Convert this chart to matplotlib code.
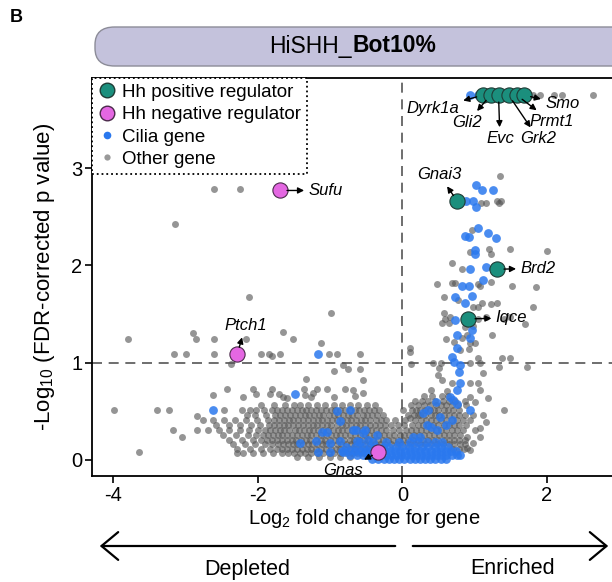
import matplotlib
matplotlib.use("Agg")
import matplotlib.pyplot as plt
from matplotlib.lines import Line2D
from matplotlib.patches import FancyBboxPatch, FancyArrowPatch

plt.rcParams["font.family"] = ["Liberation Sans", "DejaVu Sans"]
plt.rcParams["mathtext.default"] = "regular"

# ---------------- data ----------------
# Hh positive regulators (teal)
pos_names = ["Dyrk1a", "Gli2", "Evc", "Grk2", "Prmt1", "Smo", "Gnai3", "Brd2", "Iqce"]
pos_x = [1.12, 1.22, 1.33, 1.47, 1.58, 1.68, 0.76, 1.31, 0.91]
pos_y = [3.75, 3.75, 3.75, 3.75, 3.75, 3.75, 2.66, 1.96, 1.45]
pos_text_x = [0.42, 0.90, 1.35, 1.88, 2.06, 2.21, 0.51, 1.63, 1.29]
pos_text_y = [3.61, 3.47, 3.30, 3.30, 3.48, 3.66, 2.93, 1.97, 1.46]

# Hh negative regulators (magenta)
neg_names = ["Sufu", "Ptch1", "Gnas"]
neg_x = [-1.69, -2.28, -0.33]
neg_y = [2.77, 1.09, 0.08]
neg_text_x = [-1.30, -2.17, -0.82]
neg_text_y = [2.77, 1.38, -0.11]

# cilia genes (blue), scattered ones
blue_x = [0.94, 1.05, 1.22, 1.42, 1.52,
          1.02, 1.10, 1.25, 0.88, 0.98, 1.02, 1.05, 0.87, 0.92, 1.18, 1.29, 1.01, 1.01,
          0.94, 1.15, 1.12, 0.82, 0.92, 0.73, 0.97, 0.87, 0.73, 0.75, 0.94, 0.97, 0.76,
          0.69, 0.71, 0.80, 0.79, 0.80, 0.76, 0.47, 0.70, 0.66, 0.76, 0.93, 0.36, 0.29,
          0.52, 0.34, 0.60, 0.69, 0.48, 0.25, 0.15, 0.39, 0.80,
          -1.16, -1.49, -2.62, -0.90, -0.72, -0.86, -1.11, -1.04, -0.64, -0.54, -1.42,
          -1.20, -1.00, -0.86, -0.62, -0.48, -1.16, -1.00, -0.82, -0.68, -0.51, -0.35]
blue_y = [3.75, 3.75, 3.75, 3.75, 3.75,
          2.83, 2.77, 2.77, 2.66, 2.66, 2.60, 2.38, 2.30, 2.29, 2.33, 2.28, 2.16, 2.12,
          1.96, 1.98, 1.85, 1.79, 1.79, 1.67, 1.69, 1.61, 1.44, 1.28, 1.25, 1.34, 1.15,
          1.06, 1.01, 0.98, 0.90, 0.79, 0.72, 0.60, 0.62, 0.65, 0.57, 0.51, 0.51, 0.48,
          0.44, 0.36, 0.36, 0.41, 0.31, 0.24, 0.24, 0.34, 0.05,
          1.09, 0.68, 0.51, 0.50, 0.51, 0.40, 0.29, 0.29, 0.31, 0.28, 0.17,
          0.19, 0.17, 0.19, 0.19, 0.21, 0.08, 0.08, 0.08, 0.31, 0.31, 0.26]

# cilia genes, dense band near the bottom (one list of x per row)
blue_rows_y = [0.01, 0.05, 0.09, 0.13, 0.18]
blue_rows_x = [
    [-0.42, -0.34, -0.26, -0.18, -0.11, -0.04, 0.03, 0.10, 0.17, 0.24, 0.31, 0.38, 0.45, 0.53, 0.61],
    [-0.72, -0.63, -0.55, -0.47, -0.39, -0.31, -0.23, -0.16, -0.09, -0.02, 0.05, 0.12, 0.19, 0.26,
     0.33, 0.40, 0.47, 0.54, 0.61, 0.68, 0.76],
    [-0.84, -0.74, -0.65, -0.57, -0.49, -0.41, -0.33, -0.25, -0.17, -0.10, -0.03, 0.04, 0.11, 0.18,
     0.25, 0.32, 0.39, 0.46, 0.53, 0.60, 0.67, 0.74],
    [-0.78, -0.66, -0.55, -0.45, -0.36, -0.27, -0.18, -0.09, 0.00, 0.09, 0.18, 0.27, 0.36, 0.45,
     0.54, 0.63],
    [-0.58, -0.41, -0.22, -0.05, 0.10, 0.22, 0.34, 0.45, 0.55],
]

# other genes (gray), scattered ones
gray_x = [-2.60, -2.24, -3.14, -2.12, -3.79, -2.89, -2.85, -2.61, -2.16, -3.15, -2.99, -2.60,
          -2.37, -1.95, -1.84, -1.80, -1.69, -1.65, -1.51, -1.12, -0.98, -1.02, -0.90, -0.59,
          -0.95, -0.82, -0.75, -0.59, -0.55, -1.33, -2.42, -2.62, -2.06, -2.20, -2.02, -1.80,
          -1.70, -1.59, -1.36, -1.26, -1.18, -1.04, -0.94, -0.79, -0.68, -1.83, -1.65, -1.34,
          -1.23, -0.65, -0.54, -3.98, -3.39, -3.22, -3.64, -3.17, -3.04, -2.46, -2.84,
          1.27, 1.36, 1.81, 1.91, 2.09, 2.21, 2.63,
          1.35, 1.09, 1.16, 1.31, 1.37, 1.33, 0.97, 1.20, 0.94, 1.23, 1.49, 2.00, 0.69, 0.82,
          0.48, 0.69, 0.73, 1.04, 1.08, 1.22, 1.51, 1.85, 0.57, 0.77, 1.04, 1.10, 1.31, 1.22,
          0.98, 1.81, 0.57, 0.59, 0.66, 0.64, 1.04, 1.16, 1.40, 1.49, 1.69, 0.55, 0.86, 0.98,
          0.89, 0.83, 0.72, 0.94, 0.80, 0.92,
          1.24, 1.00, 0.60, 0.11, 0.10, 0.43, 0.53, 0.94, 1.04, 1.08, 1.33, 1.38, 1.49, 1.73,
          0.12, 0.51, 0.50, 0.55, 0.69, 0.93, 1.05, 1.12, 1.08, 0.39, 0.62, 0.94, 1.18, 1.01,
          1.40, 0.98, 1.12, 1.15, 1.08, 1.01, 0.90, 1.08, 0.98, 0.94, 0.89, 0.01, 0.08, 0.19,
          0.04, 0.11, 0.22]
gray_y = [2.78, 2.78, 2.43, 1.68, 1.24, 1.31, 1.24, 1.24, 1.24, 1.09, 1.09, 1.09,
          0.99, 1.09, 1.09, 1.07, 1.09, 1.32, 1.24, 1.20, 1.51, 1.09, 1.09, 1.09,
          0.91, 0.98, 0.93, 0.93, 0.82, 0.83, 0.73, 0.67, 0.73, 0.65, 0.68, 0.73,
          0.68, 0.64, 0.73, 0.65, 0.73, 0.73, 0.65, 0.73, 0.72, 0.68, 0.65, 0.67,
          0.69, 0.66, 0.69, 0.51, 0.51, 0.51, 0.08, 0.31, 0.24, 0.51, 0.45,
          3.75, 3.75, 3.75, 3.75, 3.75, 3.75, 3.75,
          2.92, 2.64, 2.64, 2.66, 2.66, 2.64, 2.36, 2.17, 2.14, 2.12, 2.17, 2.15, 2.02, 1.96,
          1.81, 1.82, 1.82, 1.81, 1.79, 1.83, 1.79, 1.78, 1.68, 1.64, 1.57, 1.61, 1.61, 1.60,
          1.57, 1.57, 1.51, 1.45, 1.47, 1.41, 1.45, 1.47, 1.45, 1.47, 1.40, 1.41, 1.37, 1.38,
          1.28, 1.25, 1.21, 1.20, 1.13, 1.14,
          1.28, 1.20, 1.24, 1.15, 1.11, 1.00, 1.00, 1.00, 1.05, 1.00, 0.96, 1.05, 1.05, 0.96,
          0.99, 0.95, 0.87, 0.82, 0.79, 0.79, 0.79, 0.89, 0.72, 0.72, 0.71, 0.65, 0.64, 0.60,
          0.51, 0.46, 0.46, 0.39, 0.33, 0.31, 0.24, 0.24, 0.17, 0.10, 0.12, 0.51, 0.46, 0.51,
          0.41, 0.43, 0.46]

# other genes, dense rows of the two blobs
gray_rows_y = [0.56, 0.51, 0.46, 0.41, 0.36, 0.31, 0.26, 0.21, 0.16, 0.11, 0.07, 0.03,
               0.66, 0.61, 0.56, 0.51, 0.46, 0.41, 0.36, 0.31, 0.26, 0.21, 0.16, 0.11]
gray_rows_x = [
    [-1.95, -1.78, -1.62, -1.50, -1.41, -1.30, -1.18, -1.07, -0.95, -0.84, -0.73, -0.61, -0.49, -0.38],
    [-2.22, -2.11, -2.02, -1.91, -1.80, -1.73, -1.66, -1.59, -1.52, -1.46, -1.39, -1.33, -1.26, -1.19,
     -1.13, -1.06, -0.99, -0.93, -0.86, -0.79, -0.73, -0.66, -0.60, -0.53, -0.46, -0.39, -0.32],
    [-2.15, -2.03, -1.88, -1.76, -1.69, -1.62, -1.55, -1.49, -1.42, -1.35, -1.29, -1.22, -1.15, -1.09,
     -1.02, -0.95, -0.89, -0.82, -0.75, -0.69, -0.62, -0.55, -0.49, -0.42, -0.35, -0.27],
    [-2.75, -2.62, -2.47, -2.31, -2.16, -2.01, -1.86, -1.78, -1.71, -1.64, -1.57, -1.51, -1.44, -1.37,
     -1.31, -1.24, -1.17, -1.11, -1.04, -0.97, -0.91, -0.84, -0.77, -0.71, -0.64, -0.57, -0.51, -0.44,
     -0.37, -0.30, -0.22],
    [-2.58, -2.40, -2.24, -2.09, -1.97, -1.85, -1.78, -1.71, -1.64, -1.58, -1.51, -1.44, -1.38, -1.31,
     -1.24, -1.18, -1.11, -1.04, -0.98, -0.91, -0.84, -0.78, -0.71, -0.64, -0.58, -0.51, -0.44, -0.38,
     -0.31, -0.24, -0.16],
    [-2.84, -2.68, -2.53, -2.40, -2.25, -2.12, -2.00, -1.90, -1.83, -1.76, -1.69, -1.63, -1.56, -1.49,
     -1.43, -1.36, -1.29, -1.23, -1.16, -1.09, -1.03, -0.96, -0.89, -0.83, -0.76, -0.69, -0.63, -0.56,
     -0.49, -0.43, -0.36, -0.29, -0.22, -0.13],
    [-2.48, -2.30, -2.14, -2.02, -1.93, -1.86, -1.79, -1.72, -1.66, -1.59, -1.52, -1.46, -1.39, -1.32,
     -1.26, -1.19, -1.12, -1.06, -0.99, -0.92, -0.86, -0.79, -0.72, -0.66, -0.59, -0.52, -0.46, -0.39,
     -0.32, -0.26, -0.19, -0.11, -0.03],
    [-2.40, -2.22, -2.06, -1.95, -1.87, -1.80, -1.73, -1.67, -1.60, -1.53, -1.47, -1.40, -1.33, -1.27,
     -1.20, -1.13, -1.07, -1.00, -0.93, -0.87, -0.80, -0.73, -0.67, -0.60, -0.53, -0.47, -0.40, -0.33,
     -0.27, -0.20, -0.13, -0.06],
    [-2.34, -2.18, -2.03, -1.90, -1.80, -1.72, -1.65, -1.58, -1.51, -1.45, -1.38, -1.31, -1.25, -1.18,
     -1.11, -1.05, -0.98, -0.91, -0.85, -0.78, -0.71, -0.65, -0.58, -0.51, -0.45, -0.38, -0.31, -0.24,
     -0.16, -0.08],
    [-2.29, -2.11, -1.96, -1.83, -1.73, -1.66, -1.59, -1.52, -1.46, -1.39, -1.32, -1.26, -1.19, -1.12,
     -1.06, -0.99, -0.92, -0.86, -0.79, -0.72, -0.66, -0.59, -0.52, -0.46, -0.39, -0.32, -0.25],
    [-2.28, -2.20, -2.06, -1.92, -1.79, -1.67, -1.58, -1.50, -1.42, -1.34, -1.26, -1.18, -1.10, -1.02,
     -0.94, -0.86, -0.78, -0.70, -0.62, -0.55],
    [-1.45, -1.30, -1.15, -1.00, -0.86, -0.72],
    [0.30, 0.41, 0.55, 0.63],
    [0.18, 0.27, 0.36, 0.45, 0.56, 0.64, 0.73, 0.86],
    [0.12, 0.22, 0.30, 0.38, 0.46, 0.53, 0.60, 0.68, 0.77, 0.88],
    [0.14, 0.24, 0.31, 0.38, 0.44, 0.50, 0.57, 0.63, 0.70, 0.78],
    [0.16, 0.25, 0.32, 0.39, 0.45, 0.51, 0.58, 0.64, 0.71, 0.79, 0.87],
    [-0.10, 0.18, 0.26, 0.33, 0.40, 0.47, 0.54, 0.61, 0.68, 0.75, 0.84, 0.93],
    [-0.06, 0.02, 0.14, 0.22, 0.29, 0.36, 0.43, 0.50, 0.57, 0.64, 0.71, 0.79, 0.88],
    [-0.04, 0.05, 0.12, 0.19, 0.26, 0.33, 0.40, 0.47, 0.54, 0.61, 0.68, 0.76, 0.84],
    [0.02, 0.09, 0.16, 0.23, 0.30, 0.37, 0.44, 0.51, 0.58, 0.65, 0.72, 0.80],
    [0.01, 0.08, 0.15, 0.22, 0.29, 0.36, 0.43, 0.50, 0.57, 0.64, 0.71, 0.78, 0.86],
    [0.00, 0.08, 0.16, 0.24, 0.32, 0.40, 0.48, 0.56, 0.64, 0.72, 0.80, 0.87],
    [0.70, 0.78, 0.85],
]

x_ticks = [-4, -2, 0, 2]
y_ticks = [0, 1, 2, 3]

# ---------------- colours ----------------
c_gray = "#555555"
c_blue = "#2a78ee"
c_teal = "#1b8f7d"
c_pink = "#e467e2"

fig = plt.figure(figsize=(6.12, 5.82), dpi=100)
ax = fig.add_axes([92 / 612, 1 - 476 / 582, (615 - 92) / 612, (476 - 78) / 582])

# dense rows -> flat lists
gx, gy = list(gray_x), list(gray_y)
for yy, row in zip(gray_rows_y, gray_rows_x):
    gx += row
    gy += [yy] * len(row)
bx, by = list(blue_x), list(blue_y)
for yy, row in zip(blue_rows_y, blue_rows_x):
    bx += row
    by += [yy] * len(row)

ax.axhline(1, color="#555555", lw=1.2, ls=(0, (6, 4)), zorder=0)
ax.axvline(0, color="#555555", lw=1.2, ls=(0, (6, 4)), zorder=0)

ax.scatter(gx, gy, s=25, color=c_gray, alpha=0.62, lw=0, zorder=1)
ax.scatter(bx, by, s=40, color=c_blue, alpha=0.85, lw=0, zorder=2)
ax.scatter(pos_x, pos_y, s=120, color=c_teal, edgecolor="#1f3b35", lw=0.8, zorder=4)
ax.scatter(neg_x, neg_y, s=120, color=c_pink, edgecolor="#4a2a4a", lw=0.8, zorder=4)

# gene labels with arrows
for names, xs, ys, txs, tys in [(pos_names, pos_x, pos_y, pos_text_x, pos_text_y),
                                (neg_names, neg_x, neg_y, neg_text_x, neg_text_y)]:
    for n, x0, y0, tx, ty in zip(names, xs, ys, txs, tys):
        ha = "left" if n in ["Sufu", "Brd2", "Iqce"] else "center"
        ax.annotate(n, xy=(x0, y0), xytext=(tx, ty), fontsize=12, fontstyle="italic",
                    ha=ha, va="center", zorder=5, annotation_clip=False,
                    arrowprops=dict(arrowstyle="<|-, head_length=0.3, head_width=0.15",
                                    color="black", lw=1, shrinkA=1, shrinkB=5))

ax.set_xlim(-4.29, 2.94)
ax.set_ylim(-0.165, 3.926)
ax.set_xticks(x_ticks)
ax.set_yticks(y_ticks)
ax.set_xticklabels([str(t) for t in x_ticks])
ax.tick_params(labelsize=14.5, length=5, width=1.2, pad=2)
ax.spines["right"].set_visible(False)
for s in ["left", "top", "bottom"]:
    ax.spines[s].set_linewidth(1.3)

ax.set_ylabel("-Log$_{10}$ (FDR-corrected p value)", fontsize=16, labelpad=10)

# legend
handles = [Line2D([], [], marker="o", ls="", color=c_teal, markeredgecolor="#1f3b35", markersize=10.5),
           Line2D([], [], marker="o", ls="", color=c_pink, markeredgecolor="#4a2a4a", markersize=10.5),
           Line2D([], [], marker="o", ls="", color=c_blue, markeredgewidth=0, markersize=5.5),
           Line2D([], [], marker="o", ls="", color="#999999", markeredgewidth=0, markersize=4.5)]
labels = ["Hh positive regulator", "Hh negative regulator", "Cilia gene", "Other gene"]
leg = ax.legend(handles, labels, loc="upper left", bbox_to_anchor=(0, 1), borderaxespad=0,
                fontsize=13.5, handletextpad=0.3, labelspacing=0.28, borderpad=0.3,
                handlelength=1.0, fancybox=False, framealpha=1)
leg.get_frame().set_edgecolor("black")
leg.get_frame().set_linestyle(":")
leg.get_frame().set_linewidth(1.3)
leg.set_zorder(6)

# x label + depleted / enriched arrows
fig.text(364 / 612, 1 - 518 / 582, "Log$_2$ fold change for gene", fontsize=14.5, ha="center", va="center")
fig.patches.append(FancyArrowPatch((398 / 612, 1 - 546 / 582), (97 / 612, 1 - 546 / 582),
                                   transform=fig.transFigure, arrowstyle="->, head_length=0.6, head_width=0.5",
                                   mutation_scale=20, lw=1.6, color="black"))
fig.patches.append(FancyArrowPatch((410 / 612, 1 - 546 / 582), (611 / 612, 1 - 546 / 582),
                                   transform=fig.transFigure, arrowstyle="->, head_length=0.6, head_width=0.5",
                                   mutation_scale=20, lw=1.6, color="black"))
fig.text(247 / 612, 1 - 569 / 582, "Depleted", fontsize=15.5, ha="center", va="center")
fig.text(513 / 612, 1 - 569 / 582, "Enriched", fontsize=15.5, ha="center", va="center")

# panel letter and title banner
fig.text(10 / 612, 1 - 18 / 582, "B", fontsize=13, fontweight="bold", va="center")
fig.patches.append(FancyBboxPatch((95 / 612, 1 - 66 / 582), 540 / 612, 39 / 582,
                                  boxstyle="round, pad=0, rounding_size=0.032",
                                  transform=fig.transFigure, facecolor="#c4c2dc",
                                  edgecolor="#8c8c98", lw=1, mutation_aspect=582 / 612))
fig.text(352 / 612, 1 - 46 / 582, "HiSHH_", fontsize=16.5, ha="right", va="center")
fig.text(352 / 612, 1 - 46 / 582, "Bot10%", fontsize=16.5, fontweight="bold", ha="left", va="center")

fig.savefig("out.png", dpi=100)
